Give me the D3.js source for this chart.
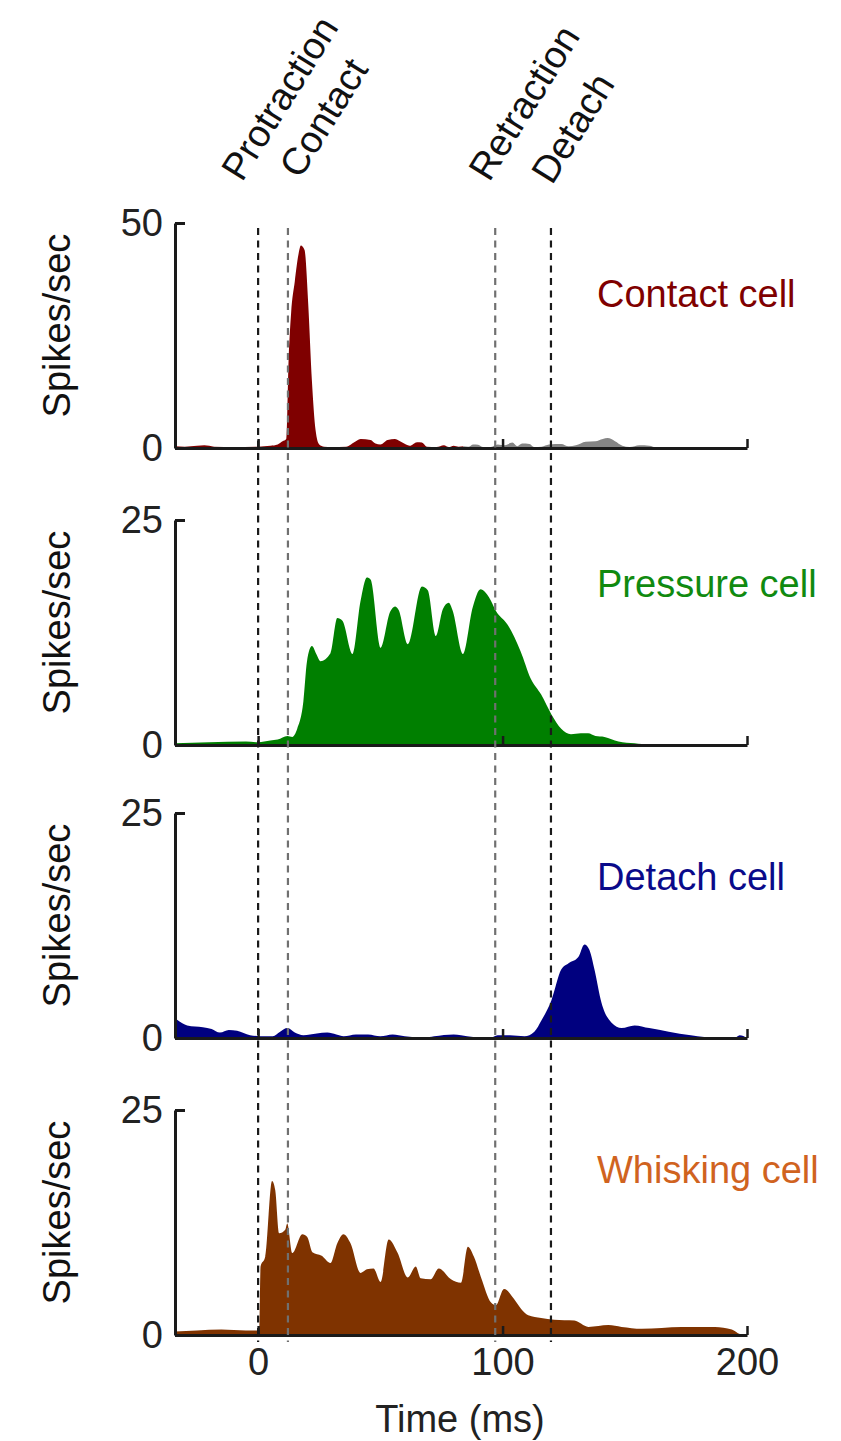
<!DOCTYPE html>
<html lang="en">
  <head>
    <meta charset="UTF-8" />
    <title>Touch cell responses</title>
    <script src="https://d3js.org/d3.v7.min.js"></script>
    <style>
      body { margin: 0; background: #fff; }
      svg text { font-family: "Liberation Sans", Arial, sans-serif; }
    </style>
  </head>
  <body>
    <svg id="chart" width="841" height="1441"></svg>

    <script>
      // time (ms) relative to protraction onset, rate in spikes/sec
      const xTicks = [0, 100, 200];
      const eventNames = ["Protraction", "Contact", "Retraction", "Detach"];
      const eventTimes = [0, 12.2, 97, 119.8];
      const cellNames = ["Contact cell", "Pressure cell", "Detach cell", "Whisking cell"];
      const cellMax = [50, 25, 25, 25];

      const contactRed = [
        [-34, 0.4], [-30, 0.3], [-25, 0.5], [-22, 0.6], [-18, 0.3], [-10, 0.2],
        [0, 0.3], [5, 0.5], [8, 0.8], [10, 1.5], [11.5, 2], [12.5, 20],
        [13.5, 30], [15, 37], [16.5, 43], [17.5, 45], [19, 44], [20.5, 32],
        [22, 15], [23.5, 4], [25, 0.8], [27, 0.3], [30, 0.2], [36, 0.3],
        [40, 1.5], [42, 2], [46, 1.8], [48, 1], [50, 0.8], [53, 1.8], [56, 2],
        [59, 1.2], [62, 0.5], [65, 1.3], [67, 1.2], [69, 0.3], [73, 0.2],
        [76, 0.6], [78, 0.2], [80, 0.5], [82, 0.3], [84, 0.4]
      ];
      const contactGray = [
        [84, 0.4], [86, 0.3], [88, 0.8], [90, 0.7], [92, 0.2], [95, 0.2],
        [98, 0.8], [101, 0.6], [104, 1.2], [106, 0.4], [108, 1.0], [111, 0.9],
        [113, 0.2], [116, 0.3], [119, 0.8], [124, 0.9], [127, 0.4], [130, 0.6],
        [134, 1.4], [138, 1.5], [141, 2], [143, 2.2], [146, 1.5], [149, 0.5],
        [152, 0.2], [156, 0.6], [160, 0.5], [163, 0.1], [170, 0], [200, 0]
      ];
      const pressure = [
        [-34, 0.2], [-20, 0.3], [-5, 0.4], [0, 0.3], [5, 0.5], [8, 0.6],
        [12, 1.0], [14, 0.9], [16, 1.8], [18.5, 4.8], [20, 9.3], [22, 11],
        [24, 10], [25.5, 9.3], [29.6, 10.2], [32.4, 14.1], [34.5, 13.8],
        [38.6, 10.1], [41.9, 16], [44.5, 18.6], [46, 18.4], [50.1, 10.8],
        [54, 14.8], [56, 15.4], [57.5, 15], [61.2, 11.2], [67, 17.6],
        [69.4, 17.2], [72.7, 12.1], [75.6, 15.1], [78, 15.8], [79.5, 15],
        [83.8, 10.1], [87.8, 15.3], [91, 17.3], [94.5, 16.4], [97.3, 14.9],
        [102, 13.4], [107.4, 10.4], [111.5, 7.4], [115.8, 5.6], [120, 3.4],
        [124, 1.8], [128, 1.2], [132, 1.3], [135, 1.3], [138, 1.0],
        [141.7, 0.9], [147.4, 0.4], [154, 0.2], [160, 0.05], [200, 0]
      ];
      const detach = [
        [-34, 2.2], [-33, 2], [-29, 1.4], [-22.6, 1.2], [-19, 1], [-15.6, 0.6],
        [-12, 0.9], [-8.6, 0.8], [-3.3, 0.3], [1, 0.2], [6, 0.2], [9, 0.7],
        [12, 1.1], [15, 0.6], [18.5, 0.3], [24, 0.5], [28.3, 0.6], [32, 0.4],
        [35, 0.2], [40, 0.4], [45, 0.4], [50, 0.2], [55, 0.4], [60, 0.2],
        [68, 0.05], [72, 0.2], [80, 0.4], [83, 0.3], [88, 0.1], [95, 0],
        [98, 0.3], [103, 0.3], [109, 0.2], [113, 0.7], [116, 2], [120, 4.2],
        [124, 7.6], [127, 8.3], [131, 9], [133.5, 10.4], [135.5, 9.8],
        [137.6, 7.6], [140.5, 3.9], [144.6, 1.7], [148.7, 1.1], [154, 1.4],
        [160, 1.1], [168, 0.7], [177, 0.3], [188, 0], [195, 0], [197, 0.3],
        [200, 0]
      ];
      const whisking = [
        [-34, 0.4], [-25, 0.5], [-15, 0.6], [-5, 0.5], [0, 0.5], [0.5, 0.6],
        [1, 7.6], [2.9, 8.7], [5.7, 17.1], [7, 16.1], [8.6, 11.3], [11.1, 11.7],
        [11.9, 12.4], [14, 9.1], [18.1, 11.2], [20.1, 10.9], [22.2, 9.2],
        [26, 8.8], [29.6, 8], [32.4, 10.2], [34.9, 11.2], [37.8, 10.2],
        [41.9, 6.9], [44.5, 7.3], [47.2, 7.4], [50.1, 5.9], [53.4, 10.6],
        [57.1, 9.1], [61.2, 6.4], [64.5, 7.6], [66.5, 6.3], [70.6, 6.2],
        [73.9, 7.4], [78.9, 6.2], [83, 5.8], [85.8, 9.8], [88.3, 8.7],
        [91.2, 6.4], [95.3, 3.6], [97.3, 3.3], [100.6, 5.1], [104.7, 4],
        [107.6, 2.9], [110.5, 2.2], [115.8, 1.9], [121.1, 1.7], [129.4, 1.6],
        [135.1, 0.9], [143.3, 1.1], [148.7, 0.9], [156.9, 0.7], [173.3, 0.9],
        [186.9, 0.9], [193.8, 0.6], [197.1, 0.1], [200, 0]
      ];

      const panels = [
        { series: [[contactRed, "#7f0000"], [contactGray, "#858585"]], label: "#7f0000", labelDy: 84 },
        { series: [[pressure, "#007f00"]], label: "#108a10", labelDy: 77 },
        { series: [[detach, "#00007f"]], label: "#0a0a8a", labelDy: 77 },
        { series: [[whisking, "#7f3300"]], label: "#d0631f", labelDy: 73 }
      ];
      const panelTops = [223, 520, 813, 1110];
      const panelH = 225;
      const fontSize = 38;

      const svg = d3.select("#chart");
      const x = d3.scaleLinear().domain([-34, 200]).range([175, 747]);

      panels.forEach((p, i) => {
        const top = panelTops[i];
        const y = d3.scaleLinear().domain([0, cellMax[i]]).range([top + panelH, top]);
        const g = svg.append("g");

        const area = d3
          .area()
          .curve(d3.curveMonotoneX)
          .x((d) => x(d[0]))
          .y0(y(0))
          .y1((d) => y(d[1]));

        p.series.forEach(([data, col]) => {
          g.append("path").datum(data).attr("fill", col).attr("d", area);
        });

        g.append("text")
          .attr("x", 597)
          .attr("y", top + p.labelDy)
          .attr("fill", p.label)
          .style("font-size", fontSize + "px")
          .text(cellNames[i]);

        // y axis bracket
        const yAxis = g
          .append("g")
          .attr("transform", `translate(${x.range()[0]},0)`)
          .call(
            d3.axisLeft(y).tickValues([0, cellMax[i]]).tickSizeInner(-10).tickSizeOuter(0).tickPadding(12)
          );
        yAxis.select(".domain").attr("stroke", "#1a1a1a").attr("stroke-width", 3);
        yAxis.selectAll(".tick line").attr("stroke", "#1a1a1a").attr("stroke-width", 3);
        yAxis.selectAll(".tick text").attr("fill", "#222").style("font-size", fontSize + "px");

        g.append("text")
          .attr("transform", `translate(70,${top + panelH / 2 - 10}) rotate(-90)`)
          .attr("text-anchor", "middle")
          .attr("fill", "#111")
          .style("font-size", fontSize + "px")
          .text("Spikes/sec");

        const last = i === panels.length - 1;
        const xAxis = g
          .append("g")
          .attr("transform", `translate(0,${y(0)})`)
          .call(
            d3.axisBottom(x).tickValues(xTicks).tickSizeInner(-9).tickSizeOuter(0).tickPadding(13)
              .tickFormat(last ? d3.format("d") : () => "")
          );
        xAxis.select(".domain").attr("stroke", "#1a1a1a").attr("stroke-width", 3);
        xAxis.selectAll(".tick line").attr("stroke", "#1a1a1a").attr("stroke-width", 2.5);
        xAxis.selectAll(".tick text").attr("fill", "#222").style("font-size", fontSize + "px");
      });

      // event markers through all panels
      const eventColors = ["#1a1a1a", "#707070", "#707070", "#1a1a1a"];
      svg
        .append("g")
        .selectAll("line")
        .data(eventTimes)
        .enter()
        .append("line")
        .attr("x1", (d) => x(d))
        .attr("x2", (d) => x(d))
        .attr("y1", 228)
        .attr("y2", 1342)
        .attr("stroke", (d, i) => eventColors[i])
        .attr("stroke-width", 2.2)
        .attr("stroke-dasharray", "7,5.5");

      const labelShift = [[-16, 183], [12, 180], [-6, 183], [1, 186]];
      svg
        .append("g")
        .selectAll("text")
        .data(eventNames)
        .enter()
        .append("text")
        .attr(
          "transform",
          (d, i) => `translate(${x(eventTimes[i]) + labelShift[i][0]},${labelShift[i][1]}) rotate(-58)`
        )
        .attr("fill", "#111")
        .style("font-size", fontSize + "px")
        .text((d) => d);

      svg
        .append("text")
        .attr("x", 460)
        .attr("y", 1432)
        .attr("text-anchor", "middle")
        .attr("fill", "#222")
        .style("font-size", fontSize + "px")
        .text("Time (ms)");
    </script>
  </body>
</html>
